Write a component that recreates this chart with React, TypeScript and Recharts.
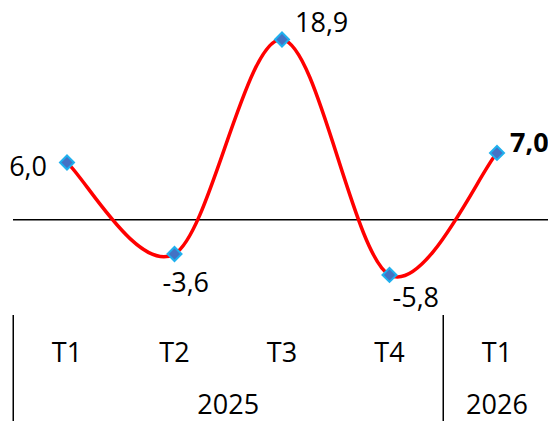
import React from "react";
import { LineChart, Line, XAxis, YAxis, ReferenceLine, LabelList } from "recharts";

const quarters = ["T1", "T2", "T3", "T4", "T1"];
const years = ["2025", "2025", "2025", "2025", "2026"];
const growth = [6.0, -3.6, 18.9, -5.8, 7.0];

const data = quarters.map((q, i) => ({ q: `${q}-${i}`, quarter: q, year: years[i], value: growth[i] }));

// chart geometry (px)
const W = 551;
const H = 421;
const AXIS_H = 106;
const M = { top: 29, right: 0, bottom: 0, left: 13 };
const PAD = 54;
const STEP = (W - M.left - M.right - 2 * PAD) / (quarters.length - 1);
const PLOT_BOTTOM = H - AXIS_H;

const FONT = "'Open Sans', sans-serif";
const FS = 27;

// label placement next to each point: [dx, dy, anchor]
const labelPos: [number, number, string][] = [
  [-20, 14, "end"],
  [-12, 38, "start"],
  [13, -7, "start"],
  [3, 32, "start"],
  [13, -1, "start"],
];

// smoothed line like office charts (catmull-rom)
const smoothCurve = (context: any) => {
  let pts: number[][] = [];
  return {
    areaStart() {},
    areaEnd() {},
    lineStart() {
      pts = [];
    },
    point(x: number, y: number) {
      pts.push([+x, +y]);
    },
    lineEnd() {
      if (!pts.length) return;
      context.moveTo(pts[0][0], pts[0][1]);
      for (let i = 0; i < pts.length - 1; i++) {
        const p0 = pts[Math.max(i - 1, 0)];
        const p1 = pts[i];
        const p2 = pts[i + 1];
        const p3 = pts[Math.min(i + 2, pts.length - 1)];
        context.bezierCurveTo(
          p1[0] + (p2[0] - p0[0]) / 6,
          p1[1] + (p2[1] - p0[1]) / 6,
          p2[0] - (p3[0] - p1[0]) / 6,
          p2[1] - (p3[1] - p1[1]) / 6,
          p2[0],
          p2[1]
        );
      }
    },
  };
};

const Diamond = (props: any) => {
  const { cx, cy } = props;
  if (cx == null || cy == null) return null;
  const r = 7;
  return (
    <polygon
      points={`${cx},${cy - r} ${cx + r},${cy} ${cx},${cy + r} ${cx - r},${cy}`}
      fill="#4472C4"
      stroke="#1FB0EE"
      strokeWidth={2}
    />
  );
};

const ValueLabel = (props: any) => {
  const { x, y, value, index } = props;
  const [dx, dy, anchor] = labelPos[index];
  const last = index === growth.length - 1;
  return (
    <text
      x={x + dx}
      y={y + dy}
      textAnchor={anchor}
      fontFamily={FONT}
      fontSize={FS}
      fontWeight={last ? 700 : 400}
      fill="#000"
    >
      {Number(value).toFixed(1).replace(".", ",")}
    </text>
  );
};

const QuarterTick = (props: any) => {
  const { x, payload } = props;
  const i = payload.index;
  const year = years[i];
  const first = i === 0 || years[i - 1] !== year;
  let count = 0;
  while (i + count < years.length && years[i + count] === year) count++;
  return (
    <g>
      <text x={x} y={PLOT_BOTTOM + 47} textAnchor="middle" fontFamily={FONT} fontSize={FS} fill="#000">
        {quarters[i]}
      </text>
      {first && (
        <>
          <line x1={x - STEP / 2} x2={x - STEP / 2} y1={PLOT_BOTTOM} y2={H} stroke="#000" strokeWidth={1.5} />
          <text
            x={x + ((count - 1) * STEP) / 2}
            y={PLOT_BOTTOM + 99}
            textAnchor="middle"
            fontFamily={FONT}
            fontSize={FS}
            fill="#000"
          >
            {year}
          </text>
        </>
      )}
    </g>
  );
};

export default function App() {
  return (
    <div style={{ position: "absolute", left: 0, top: 0, width: 548, height: H, overflow: "hidden", background: "#fff" }}>
      <LineChart width={W} height={H} data={data} margin={M}>
        <XAxis
          dataKey="q"
          axisLine={false}
          tickLine={false}
          tickSize={0}
          padding={{ left: PAD, right: PAD }}
          height={AXIS_H}
          interval={0}
          tick={<QuarterTick />}
        />
        <YAxis hide domain={[-10, 20]} />
        <ReferenceLine y={0} stroke="#000" strokeWidth={1.5} />
        <Line
          dataKey="value"
          type={smoothCurve as any}
          stroke="#FF0000"
          strokeWidth={3.5}
          dot={<Diamond />}
          activeDot={false}
          isAnimationActive={false}
        >
          <LabelList dataKey="value" content={<ValueLabel />} />
        </Line>
      </LineChart>
    </div>
  );
}
